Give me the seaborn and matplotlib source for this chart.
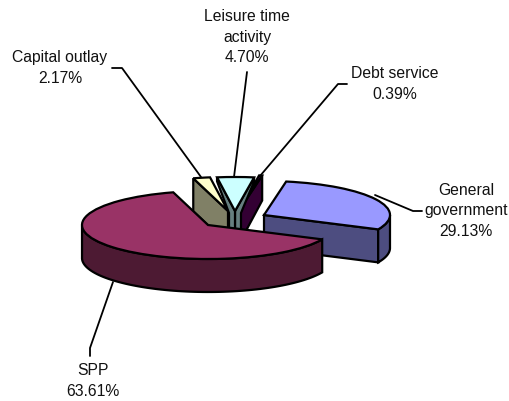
import numpy as np
import seaborn as sns
import matplotlib.pyplot as plt

labels = ['General\ngovernment', 'Debt service', 'Leisure time\nactivity', 'Capital outlay', 'SPP']
shares = [29.13, 0.39, 4.70, 2.17, 63.61]
top_colors = ['#9999FF', '#660066', '#CCFFFF', '#FFFFCC', '#993366']
side_colors = ['#4D4D80', '#330033', '#668080', '#808066', '#4D1A33']

sns.set_theme(style='white')
plt.rcParams['font.family'] = ['Liberation Sans', 'DejaVu Sans']

# picture is a squashed pie, data units = pie radius
CX, CY, RX, RY = 208, 226, 126, 34
DEPTH = 33 / RY
W, H = 509, 402


def x_(px):
    return (px - CX) / RX


def y_(py):
    return (CY - py) / RY


fig = plt.figure(figsize=(W / 100, H / 100), dpi=100)
ax = fig.add_axes([0, 0, 1, 1])

wedges, _ = ax.pie(shares, startangle=-25, colors=sns.color_palette(top_colors),
                   wedgeprops={'edgecolor': 'black', 'linewidth': 1.6})
ax.set_aspect('auto')
ax.set_xlim(x_(0), x_(W))
ax.set_ylim(y_(H), y_(0))
ax.axis('off')

# offset of each slice's tip from the pie centre, in pixels
offsets = [(56, -10), (32, -16), (27, -14), (20, -14), (0, 0)]
order = [3, 1, 2, 0, 4]

for z, i in enumerate(order):
    w = wedges[i]
    cx, cy = x_(CX + offsets[i][0]), y_(CY + offsets[i][1])
    w.set_center((cx, cy))
    w.set_zorder(z * 3 + 2)
    t = np.radians(np.linspace(w.theta1, w.theta2, 120))
    kw = dict(facecolor=side_colors[i], edgecolor='black', linewidth=1.6, zorder=z * 3 + 1)
    # cut faces, only those turned towards the viewer
    faces = []
    if np.cos(t[0]) > 0:
        faces.append(t[0])
    if np.cos(t[-1]) < 0:
        faces.append(t[-1])
    for a in faces:
        ex, ey = cx + np.cos(a), cy + np.sin(a)
        if i == 2:
            # leisure walls show as thin bands that meet in a stem
            sx = 6 / RX * np.sign(np.cos(a))
            ax.fill([cx, ex, ex, cx + sx, cx + sx, cx],
                    [cy, ey, ey - 4 / RY, cy - 2 / RY, cy - DEPTH, cy - DEPTH], **kw)
        else:
            corner = DEPTH * 25 / 33 if i == 1 else DEPTH
            ax.fill([cx, ex, ex, cx], [cy, ey, ey - corner, cy - DEPTH], **kw)
    # outer rim, only the part facing the viewer
    front = t[np.sin(t) < 0]
    if len(front):
        xs = cx + np.cos(front)
        ys = cy + np.sin(front)
        ax.fill(np.r_[xs, xs[::-1]], np.r_[ys, ys[::-1] - DEPTH], **kw)

leaders = [[(422, 212), (413, 212), (375, 196)],
           [(347, 85), (338, 85), (260, 177)],
           [(247, 73), (234, 178)],
           [(112, 69), (122, 69), (201, 178)],
           [(90, 357), (90, 349), (113, 283)]]
for pts in leaders:
    ax.plot([x_(p[0]) for p in pts], [y_(p[1]) for p in pts], color='black', lw=1.3, zorder=20)

label_pos = [(466, 211), (395, 84), (247, 37), (60, 68), (93, 381)]
for name, val, (px, py) in zip(labels, shares, label_pos):
    ax.text(x_(px), y_(py), f'{name}\n{val:.2f}%', ha='center', va='center',
            fontsize=11.3, color='#111111', linespacing=1.47, zorder=30)

fig.savefig('out.png', dpi=100)
